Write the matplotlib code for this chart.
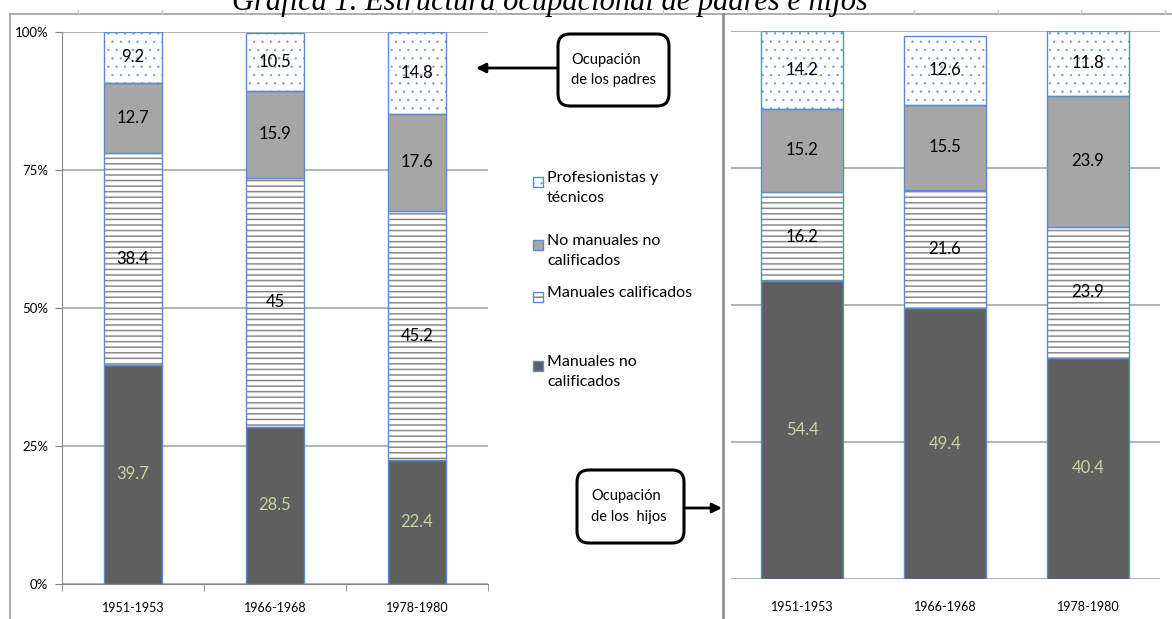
import matplotlib
matplotlib.use('Agg')
import matplotlib.pyplot as plt
from matplotlib.patches import Rectangle, FancyBboxPatch, FancyArrowPatch
from matplotlib.lines import Line2D
from matplotlib.transforms import IdentityTransform
import numpy as np

plt.rcParams['font.family'] = ['Lato', 'DejaVu Sans']
plt.rcParams['hatch.linewidth'] = 1.1

# datos
periodos = ['1951-1953', '1966-1968', '1978-1980']
categorias = ['Manuales no\ncalificados', 'Manuales calificados',
              'No manuales no\ncalificados', 'Profesionistas y\ntécnicos']

padres_manuales_no = [39.7, 28.5, 22.4]
padres_manuales_cal = [38.4, 45, 45.2]
padres_no_manuales = [12.7, 15.9, 17.6]
padres_profesionistas = [9.2, 10.5, 14.8]

hijos_manuales_no = [54.4, 49.4, 40.4]
hijos_manuales_cal = [16.2, 21.6, 23.9]
hijos_no_manuales = [15.2, 15.5, 23.9]
hijos_profesionistas = [14.2, 12.6, 11.8]

# estilos (relleno, trama, color de trama, color de etiqueta)
estilos = [('#5f5f5f', None, None, '#c3d69b'),
           ('white', '---', '#8a8a8a', 'black'),
           ('#a6a6a6', None, None, 'black'),
           ('white', '..', '#6f98d0', 'black')]
borde = '#5b8bd0'
gris_rejilla = '#a6a6a6'

W, H = 1172, 619
fig = plt.figure(figsize=(W / 100, H / 100), dpi=100)


def fx(px):
    return px / W


def fy(py):
    return 1 - py / H


def trama_fina(patches, hatch):
    # los puntos se ven mas finos en el original
    if hatch == '..':
        for p in patches:
            if hasattr(p, 'set_hatch_linewidth'):
                p.set_hatch_linewidth(0.4)


def dibujar(ax, series, ancho):
    x = np.arange(len(periodos))
    base = np.zeros(len(periodos))
    for vals, (fc, hatch, hc, tc) in zip(series, estilos):
        vals = np.array(vals, dtype=float)
        if hatch:
            b = ax.bar(x, vals, ancho, bottom=base, color=fc, hatch=hatch,
                       edgecolor=hc, linewidth=0, zorder=2)
            trama_fina(b.patches, hatch)
            ax.bar(x, vals, ancho, bottom=base, color='none',
                   edgecolor=borde, linewidth=1, zorder=3)
        else:
            ax.bar(x, vals, ancho, bottom=base, color=fc,
                   edgecolor=borde, linewidth=1, zorder=3)
        for xi, b0, v in zip(x, base, vals):
            ax.text(xi, b0 + v / 2, f'{v:g}', ha='center', va='center',
                    fontsize=12, color=tc, zorder=4)
        base += vals
    ax.set_xlim(-0.5, 2.5)
    ax.set_ylim(0, 100)
    ax.set_xticks(x)
    ax.set_xticklabels(periodos, fontsize=9)
    ax.yaxis.grid(True, color=gris_rejilla, linewidth=1.2, zorder=0)
    ax.set_axisbelow(True)
    for s in ['top', 'right']:
        ax.spines[s].set_visible(False)


# grafica de padres
ax1 = fig.add_axes([fx(62), fy(584), fx(488) - fx(62), fy(32) - fy(584)])
dibujar(ax1, [padres_manuales_no, padres_manuales_cal,
              padres_no_manuales, padres_profesionistas], 0.41)
ax1.set_yticks([0, 25, 50, 75, 100])
ax1.set_yticklabels(['0%', '25%', '50%', '75%', '100%'], fontsize=9.5)
ax1.spines['left'].set_color('#868686')
ax1.spines['bottom'].set_color('#868686')
ax1.set_xticks([-0.5, 0.5, 1.5, 2.5], minor=True)
ax1.tick_params(axis='x', which='major', length=0, pad=13)
ax1.tick_params(axis='x', which='minor', length=5, color='#868686')
ax1.tick_params(axis='y', length=5, color='#868686', pad=5)

# grafica de hijos
ax2 = fig.add_axes([fx(730.5), fy(579), fx(1159.5) - fx(730.5), fy(31) - fy(579)])
dibujar(ax2, [hijos_manuales_no, hijos_manuales_cal,
              hijos_no_manuales, hijos_profesionistas], 0.57)
ax2.set_yticks([0, 25, 50, 75, 100])
ax2.tick_params(axis='y', length=0, labelleft=False)
ax2.tick_params(axis='x', length=0, pad=16)
for s in ['left', 'bottom']:
    ax2.spines[s].set_visible(False)

# leyenda
leyenda_y = [182, 245, 297, 366]
for i in [3, 2, 1, 0]:
    fc, hatch, hc, tc = estilos[i]
    y = leyenda_y[3 - i]
    if hatch:
        r = Rectangle((fx(533), fy(y + 5)), 10 / W, 10 / H,
                      transform=fig.transFigure, facecolor=fc,
                      hatch=hatch, edgecolor=hc, linewidth=0)
        trama_fina([r], hatch)
        fig.add_artist(r)
    fig.add_artist(Rectangle((fx(533), fy(y + 5)), 10 / W, 10 / H,
                             transform=fig.transFigure,
                             facecolor=fc if not hatch else 'none',
                             edgecolor=borde, linewidth=1))
    fig.text(fx(547), fy(y - 11), categorias[i], ha='left', va='top',
             fontsize=11.5, linespacing=1.55)

# recuadros de anotacion
for (x0, y0, w, h), texto, tx, (ax_a, ay_a, bx, by) in [
        ((558, 34, 111, 72), 'Ocupación\nde los padres', 571, (558, 68, 476, 68)),
        ((577, 470, 107, 73), 'Ocupación\nde los  hijos', 591, (684, 508, 722, 508))]:
    fig.add_artist(FancyBboxPatch((x0, H - y0 - h), w, h,
                                  boxstyle='round,pad=0,rounding_size=12',
                                  transform=IdentityTransform(),
                                  facecolor='white', edgecolor='black',
                                  linewidth=2.2, zorder=5))
    fig.text(fx(tx), fy(y0 + h / 2), texto, ha='left', va='center',
             fontsize=10.5, linespacing=1.6, zorder=6)
    fig.add_artist(FancyArrowPatch((ax_a, H - ay_a), (bx, H - by),
                                   arrowstyle='-|>', mutation_scale=14,
                                   shrinkA=0, shrinkB=0, linewidth=2,
                                   color='black',
                                   transform=IdentityTransform(), zorder=5))

# marco de la tabla del documento
marco = '#a0a0a0'
fig.add_artist(Line2D([fx(10), fx(1172)], [fy(14), fy(14)], color=marco,
                      linewidth=1.2, transform=fig.transFigure))
fig.add_artist(Line2D([fx(10), fx(10)], [fy(14), fy(619)], color=marco,
                      linewidth=1.2, transform=fig.transFigure))
fig.add_artist(Line2D([fx(723), fx(723)], [fy(14), fy(619)], color='#888888',
                      linewidth=1.8, transform=fig.transFigure))
for xt in np.arange(78, 1172, 83.6):
    fig.add_artist(Line2D([fx(xt), fx(xt)], [fy(10), fy(14)], color='#c8c8c8',
                          linewidth=1, transform=fig.transFigure))

# titulo (cortado en la parte superior)
fig.text(fx(550), fy(10), 'Gráfica 1. Estructura ocupacional de padres e hijos',
         ha='center', va='baseline', family='Liberation Serif',
         style='italic', fontsize=22)

fig.savefig('out.png', dpi=100)
